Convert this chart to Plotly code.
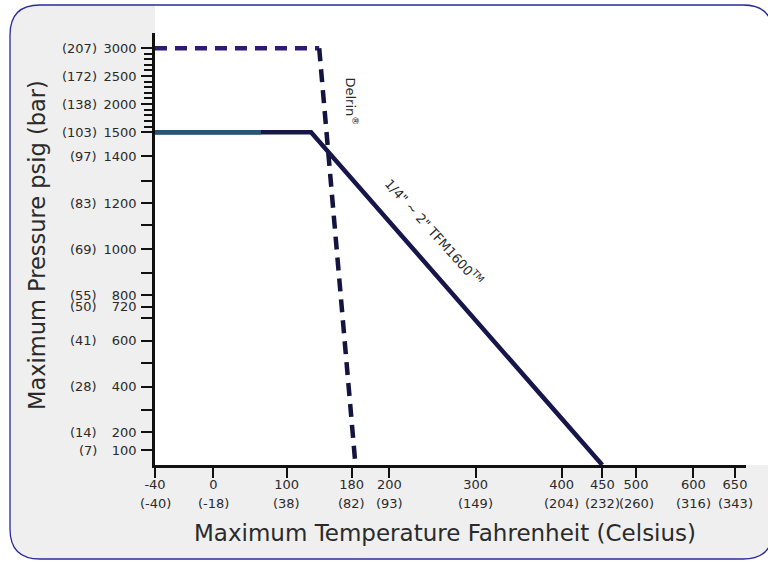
import numpy as np
import plotly.graph_objects as go

# ---------------- data ----------------
TFM_TEMP_F = [-40, 130, 450]
TFM_PSI = [1500, 1500, 0]
TFM_LOW_TEMP_F = [-40, 65]
TFM_LOW_PSI = [1500, 1500]
DELRIN_FLAT_TEMP_F = [-40, 140]
DELRIN_FLAT_PSI = [3000, 3000]
DELRIN_DROP_TEMP_F = [140, 182]
DELRIN_DROP_PSI = [3000, 0]

X_TICKS_F = [-40, 0, 100, 180, 200, 300, 400, 450, 500, 600, 650]
X_TICKS_C = [-40, -18, 38, 82, 93, 149, 204, 232, 260, 316, 343]
Y_TICKS_PSI = [100, 200, 400, 600, 720, 800, 1000, 1200, 1400, 1500, 2000, 2500, 3000]
Y_TICKS_BAR = [7, 14, 28, 41, 50, 55, 69, 83, 97, 103, 138, 172, 207]
Y_UNLABELED_PSI = [300, 500, 700, 900, 1100, 1300]
Y_MINOR_PSI = [1600, 1700, 1800, 1900, 2100, 2200, 2300, 2400, 2600, 2700, 2800, 2900]

# ---------------- piecewise axis scales (value -> drawn distance, px) ----------------
X_SCALE_VAL = [-40, 0, 100, 180, 200, 300, 400, 450, 500, 600, 650, 663]
X_SCALE_POS = [0, 58.3, 131.7, 196.7, 234.3, 320.7, 406.7, 447.3, 481, 538.3, 580, 591]
Y_SCALE_VAL = [0, 100, 200, 300, 400, 500, 600, 700, 720, 800, 900, 1000, 1100, 1200,
               1300, 1400, 1500, 2000, 2500, 3000, 3280]
Y_SCALE_POS = [0, 15, 32.7, 55, 78.3, 101.7, 124.3, 147.3, 158.3, 170, 192.3, 215.7, 240,
               261.7, 284, 309, 332.7, 361, 389, 416.7, 432]


def sx(v):
    return np.interp(v, X_SCALE_VAL, X_SCALE_POS)


def sy(v):
    return np.interp(v, Y_SCALE_VAL, Y_SCALE_POS)


# ---------------- layout geometry ----------------
W, H = 768, 562
PL, PT, PW, PH = 155, 33, 591, 432


def px(x):
    return (x - PL) / PW


def py(y):
    return 1 - (y - PT) / PH


TXT = "#2a2a2a"
FONT = "DejaVu Sans"
NAVY = "#16164a"

fig = go.Figure()

fig.add_trace(go.Scatter(x=sx(DELRIN_FLAT_TEMP_F), y=sy(DELRIN_FLAT_PSI), mode="lines",
                         line=dict(color="#2e1c72", width=4.5, dash="12px,8px"),
                         showlegend=False, hoverinfo="skip"))
fig.add_trace(go.Scatter(x=sx(DELRIN_DROP_TEMP_F), y=sy(DELRIN_DROP_PSI), mode="lines",
                         line=dict(color="#141440", width=4.5, dash="13px,8px"),
                         showlegend=False, hoverinfo="skip"))
fig.add_trace(go.Scatter(x=sx(TFM_TEMP_F), y=sy(TFM_PSI), mode="lines",
                         line=dict(color=NAVY, width=4.5),
                         showlegend=False, hoverinfo="skip"))
fig.add_trace(go.Scatter(x=sx(TFM_LOW_TEMP_F), y=sy(TFM_LOW_PSI), mode="lines",
                         line=dict(color="#245676", width=4.5),
                         showlegend=False, hoverinfo="skip"))

# ---------------- background card ----------------
x0, y0, x1, y1, r = 10, 5, 773, 559, 30


def P(x, y):
    return f"{px(x):.5f},{py(y):.5f}"


card = (f"M {P(x0 + r, y0)} L {P(x1 - r, y0)} Q {P(x1, y0)} {P(x1, y0 + r)} "
        f"L {P(x1, y1 - r)} Q {P(x1, y1)} {P(x1 - r, y1)} L {P(x0 + r, y1)} "
        f"Q {P(x0, y1)} {P(x0, y1 - r)} L {P(x0, y0 + r)} Q {P(x0, y0)} {P(x0 + r, y0)} Z")
white = (f"M {P(PL, y0)} L {P(x1 - r, y0)} Q {P(x1, y0)} {P(x1, y0 + r)} "
         f"L {P(x1, PT + PH)} L {P(PL, PT + PH)} Z")
shapes = [
    dict(type="path", path=card, xref="paper", yref="paper", fillcolor="#efefef",
         line=dict(width=0), layer="below"),
    dict(type="path", path=white, xref="paper", yref="paper", fillcolor="#ffffff",
         line=dict(width=0), layer="below"),
    dict(type="path", path=card, xref="paper", yref="paper", fillcolor="rgba(0,0,0,0)",
         line=dict(width=1.3, color="#2a2aa0"), layer="below"),
]

annotations = []
for f, c in zip(X_TICKS_F, X_TICKS_C):
    annotations.append(dict(x=sx(f), xref="x", y=py(503), yref="paper", text=f"({c})",
                            showarrow=False, xanchor="center", yanchor="middle",
                            font=dict(family=FONT, size=13, color=TXT)))
for p, b in zip(Y_TICKS_PSI, Y_TICKS_BAR):
    annotations.append(dict(x=px(99), xref="paper", y=sy(p), yref="y", text=f"({b})",
                            showarrow=False, xanchor="right", yanchor="middle",
                            font=dict(family=FONT, size=13, color=TXT)))
annotations.append(dict(x=px(445), y=py(533), xref="paper", yref="paper",
                        text="Maximum Temperature Fahrenheit (Celsius)", showarrow=False,
                        xanchor="center", yanchor="middle",
                        font=dict(family=FONT, size=23, color=TXT)))
annotations.append(dict(x=px(37), y=py(245), xref="paper", yref="paper",
                        text="Maximum Pressure psig (bar)", showarrow=False, textangle=-90,
                        xanchor="center", yanchor="middle",
                        font=dict(family=FONT, size=22.5, color=TXT)))
annotations.append(dict(x=sx(180), y=sy(2050), xref="x", yref="y",
                        text="Delrin<sup>®</sup>", showarrow=False, textangle=90,
                        xanchor="center", yanchor="middle",
                        font=dict(family=FONT, size=13, color=TXT)))
annotations.append(dict(x=sx(252), y=sy(1070), xref="x", yref="y",
                        text="1/4\" ~ 2\" TFM1600<sup>TM</sup>", showarrow=False, textangle=48,
                        xanchor="center", yanchor="middle",
                        font=dict(family=FONT, size=13, color=TXT)))

y_tickvals = list(sy(Y_TICKS_PSI)) + list(sy(Y_UNLABELED_PSI))
y_ticktext = [str(v) for v in Y_TICKS_PSI] + [""] * len(Y_UNLABELED_PSI)

fig.update_layout(
    width=W, height=H,
    margin=dict(l=PL, r=W - PL - PW, t=PT, b=H - PT - PH),
    paper_bgcolor="#ffffff", plot_bgcolor="rgba(0,0,0,0)",
    shapes=shapes, annotations=annotations,
    xaxis=dict(range=[0, 591], showgrid=False, zeroline=False, showline=True,
               linecolor="#111111", linewidth=2.5, ticks="outside", ticklen=10,
               tickwidth=2, tickcolor="#111111", tickmode="array",
               tickvals=list(sx(X_TICKS_F)), ticktext=[str(v) for v in X_TICKS_F],
               tickfont=dict(family=FONT, size=13, color=TXT), ticklabelstandoff=-4,
               fixedrange=True),
    yaxis=dict(range=[0, 432], showgrid=False, zeroline=False, showline=True,
               linecolor="#111111", linewidth=2.5, ticks="outside", ticklen=11,
               tickwidth=2, tickcolor="#111111", tickmode="array",
               tickvals=y_tickvals, ticktext=y_ticktext,
               tickfont=dict(family=FONT, size=13, color=TXT), ticklabelstandoff=2,
               minor=dict(tickmode="array", tickvals=list(sy(Y_MINOR_PSI)), ticks="outside",
                          ticklen=8, tickwidth=1.5, tickcolor="#111111", showgrid=False),
               fixedrange=True),
)

fig.write_html("out.html", config={"displayModeBar": False},
               post_script="document.body.style.margin='0';document.body.style.overflow='hidden';")
